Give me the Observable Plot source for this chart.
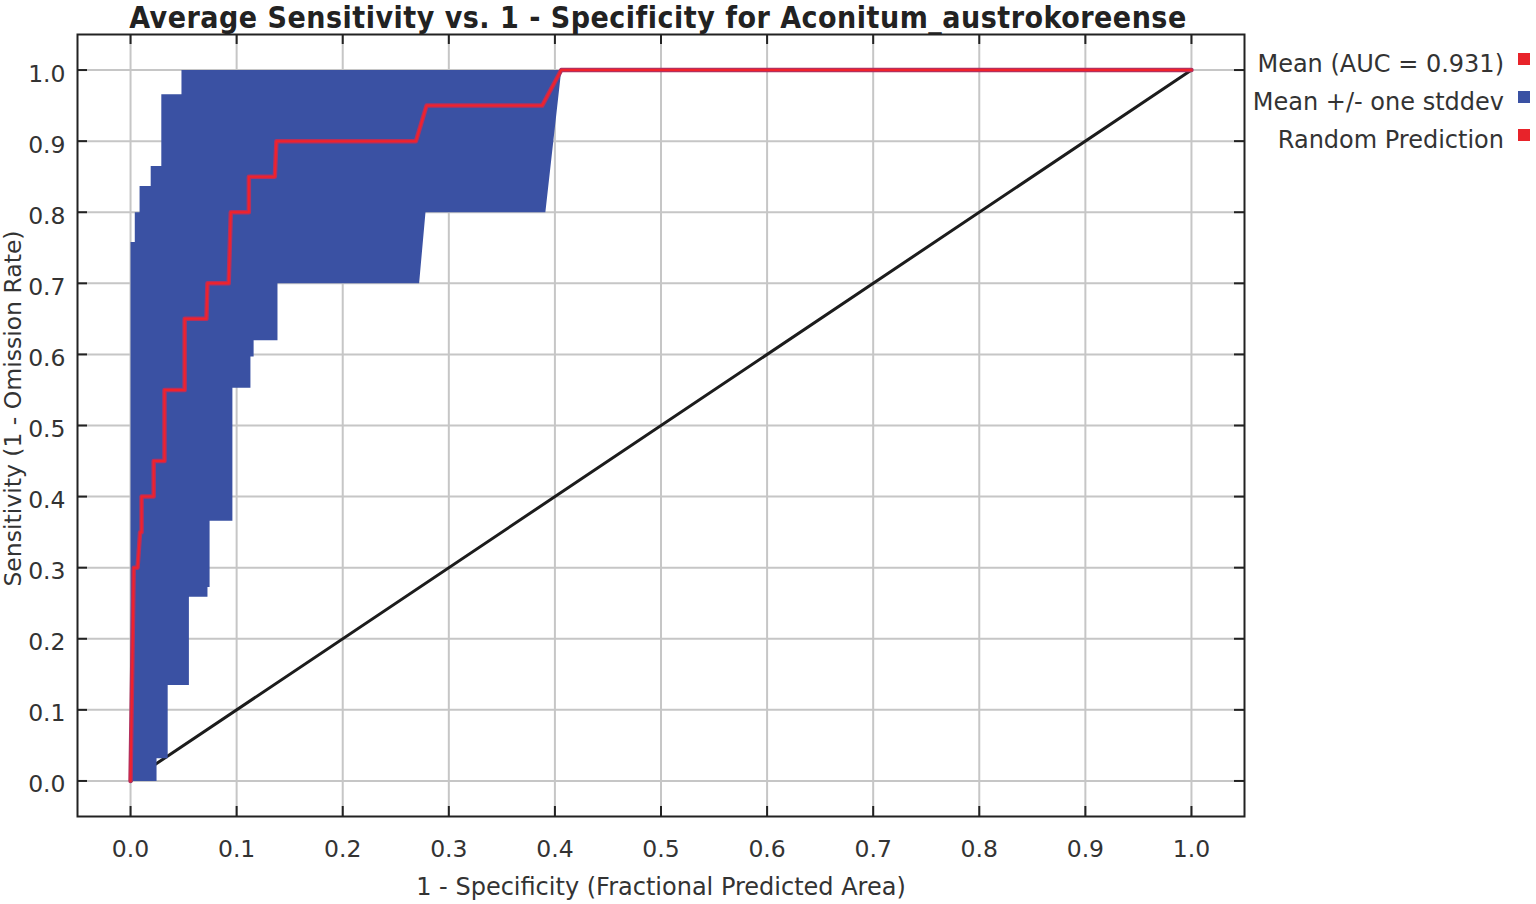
<!DOCTYPE html>
<html>
<head>
<meta charset="utf-8">
<script src="https://cdn.jsdelivr.net/npm/d3@7"></script>
<script src="https://cdn.jsdelivr.net/npm/@observablehq/plot@0.6"></script>
<style>
  html, body { margin: 0; padding: 0; background: #fff; }
  #wrap { position: relative; width: 1536px; height: 904px; overflow: hidden; font-family: "DejaVu Sans", sans-serif; color: #333; }
  #title { position: absolute; left: 0; top: 0; width: 1316px; text-align: center; font-family: "DejaVu Sans Condensed", "DejaVu Sans", sans-serif; font-stretch: condensed; font-weight: bold; font-size: 30px; letter-spacing: 0.5px; line-height: normal; color: #222; white-space: nowrap; }
  .leg { position: absolute; right: 32px; font-size: 24px; line-height: 24px; white-space: nowrap; color: #333; }
  .sw { position: absolute; left: 1518px; width: 12px; height: 12px; }
  #chart { position: absolute; left: 0; top: 0; }
</style>
</head>
<body>
<div id="wrap">
  <div id="chart"></div>
  <div id="title"></div>
  <div id="legend"></div>
</div>
<script>
// ---- data ----
const titleText = "Average Sensitivity vs. 1 - Specificity for Aconitum_austrokoreense";
const xLabel = "1 - Specificity (Fractional Predicted Area)";
const yLabel = "Sensitivity (1 - Omission Rate)";
const tickValues = [0, 0.1, 0.2, 0.3, 0.4, 0.5, 0.6, 0.7, 0.8, 0.9, 1.0];

// mean ROC curve (1 - specificity, sensitivity)
const meanFpr = [0, 0.003, 0.0066, 0.009, 0.0104, 0.0104, 0.0218, 0.0218, 0.032, 0.032, 0.051, 0.051, 0.0715, 0.0725, 0.0925, 0.0945, 0.1115, 0.1115, 0.136, 0.1375, 0.269, 0.279, 0.388, 0.406, 1.0];
const meanTpr = [0, 0.30, 0.30, 0.35, 0.35, 0.40, 0.40, 0.45, 0.45, 0.55, 0.55, 0.65, 0.65, 0.70, 0.70, 0.80, 0.80, 0.85, 0.85, 0.90, 0.90, 0.95, 0.95, 1.0, 1.0];

// mean + one stddev (upper / left edge of band)
const upperFpr = [0, 0, 0.004, 0.004, 0.0085, 0.0085, 0.019, 0.019, 0.029, 0.029, 0.048, 0.048, 0.406];
const upperTpr = [0, 0.758, 0.758, 0.80, 0.80, 0.837, 0.837, 0.865, 0.865, 0.966, 0.966, 1.0, 1.0];

// mean - one stddev (lower / right edge of band)
const lowerFpr = [0, 0.0245, 0.0245, 0.035, 0.035, 0.055, 0.055, 0.0725, 0.0725, 0.0745, 0.0745, 0.096, 0.096, 0.113, 0.113, 0.116, 0.116, 0.1385, 0.1385, 0.272, 0.278, 0.391, 0.406];
const lowerTpr = [0, 0, 0.032, 0.032, 0.135, 0.135, 0.259, 0.259, 0.273, 0.273, 0.366, 0.366, 0.553, 0.553, 0.597, 0.597, 0.62, 0.62, 0.70, 0.70, 0.80, 0.80, 1.0];

// random prediction
const randomFpr = [0, 1];
const randomTpr = [0, 1];

const legendLabels = ["Mean (AUC = 0.931)", "Mean +/- one stddev", "Random Prediction"];
const legendColors = ["#e8232a", "#3a51a3", "#e8232a"];

// ---- build tables ----
const mean = meanFpr.map((x, i) => ({x, y: meanTpr[i]}));
const upper = upperFpr.map((x, i) => ({x, y: upperTpr[i]}));
const lower = lowerFpr.map((x, i) => ({x, y: lowerTpr[i]}));
const band = upper.concat(lower.slice().reverse());
const random = randomFpr.map((x, i) => ({x, y: randomTpr[i]}));

const W = 1536, H = 904, mL = 77, mR = 292, mT = 34, mB = 88;
const frameW = W - mL - mR, frameH = H - mT - mB, tickLen = 10;
const fmt = d3.format(".1f");
const FS = 23.5;

const chart = Plot.plot({
  width: W, height: H,
  marginLeft: mL, marginRight: mR, marginTop: mT, marginBottom: mB,
  x: {domain: [-0.05, 1.05]},
  y: {domain: [-0.05, 1.05]},
  style: {fontFamily: "DejaVu Sans, sans-serif", fontSize: FS + "px", color: "#333", background: "#fff", overflow: "visible"},
  marks: [
    Plot.gridX(tickValues, {stroke: "#c6c6c6", strokeOpacity: 1, strokeWidth: 2}),
    Plot.gridY(tickValues, {stroke: "#c6c6c6", strokeOpacity: 1, strokeWidth: 2}),
    Plot.line(random, {x: "x", y: "y", stroke: "#1c1c1c", strokeWidth: 3}),
    Plot.line(band, {x: "x", y: "y", fill: "#3a51a3", stroke: "none"}),
    Plot.line(mean, {x: "x", y: "y", stroke: "#b3305e", strokeWidth: 4.5}),
    Plot.line(mean, {x: "x", y: "y", stroke: "#f2222a", strokeWidth: 2}),
    Plot.frame({stroke: "#222", strokeWidth: 2}),
    Plot.ruleX(tickValues, {x: d => d, stroke: "#222", strokeWidth: 2, insetTop: frameH - tickLen}),
    Plot.ruleX(tickValues, {x: d => d, stroke: "#222", strokeWidth: 2, insetBottom: frameH - tickLen}),
    Plot.ruleY(tickValues, {y: d => d, stroke: "#222", strokeWidth: 2, insetRight: frameW - tickLen}),
    Plot.ruleY(tickValues, {y: d => d, stroke: "#222", strokeWidth: 2, insetLeft: frameW - tickLen}),
    Plot.axisX(tickValues, {anchor: "bottom", tickSize: 0, tickPadding: 24, tickFormat: fmt, fontSize: FS, label: null}),
    Plot.axisY(tickValues, {anchor: "left", tickSize: 0, tickPadding: 12, tickFormat: fmt, fontSize: FS, dy: 4, label: null}),
    Plot.text([xLabel], {text: d => d, frameAnchor: "bottom", textAnchor: "middle", dy: 78, fontSize: 24, fill: "#333"}),
    Plot.text([yLabel], {text: d => d, frameAnchor: "left", textAnchor: "middle", rotate: -90, dx: -64, dy: -17, fontSize: FS, fill: "#333"})
  ]
});
document.getElementById("chart").appendChild(chart);

document.getElementById("title").textContent = titleText;

const legend = document.getElementById("legend");
const rowTops = [52, 90, 128];
legendLabels.forEach((label, i) => {
  const t = document.createElement("div");
  t.className = "leg";
  t.style.top = rowTops[i] + "px";
  t.textContent = label;
  legend.appendChild(t);
  const s = document.createElement("div");
  s.className = "sw";
  s.style.top = (rowTops[i] + 1) + "px";
  s.style.background = legendColors[i];
  legend.appendChild(s);
});
</script>
</body>
</html>
